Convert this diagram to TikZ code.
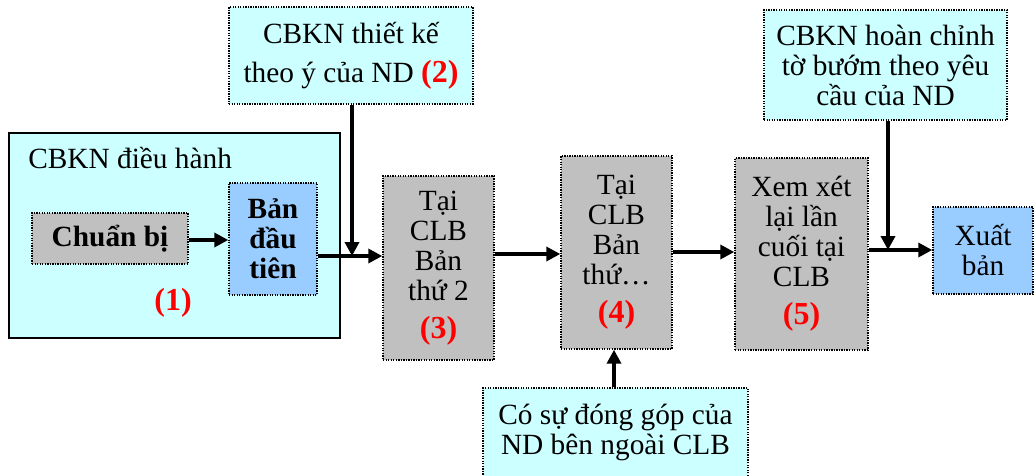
\documentclass[tikz,border=0pt]{standalone}
\usepackage{fontspec}
\setmainfont{Liberation Serif}
\usetikzlibrary{arrows.meta}
\definecolor{lcyan}{HTML}{CCFFFF}
\definecolor{lgray}{HTML}{C0C0C0}
\definecolor{lblue}{HTML}{99CCFF}
\definecolor{nred}{HTML}{FF0000}
\newcommand{\num}[1]{{\color{nred}\fontsize{24}{22.5}\selectfont\bfseries(#1)}}
\tikzset{
  x=0.75pt, y=-0.75pt,
  every node/.style={font=\fontsize{22}{22.5}\selectfont, inner sep=0pt, align=center},
  dotbox/.style={draw=black, line width=1.1pt, dash pattern=on 1pt off 0.9pt},
  graybox/.style={dotbox, fill=lgray},
  bluebox/.style={dotbox, fill=lblue},
  cyanbox/.style={dotbox, fill=lcyan},
  conn/.style={line width=2.8pt, -{Triangle[length=10.5pt,width=10.5pt]}},
  plain/.style={line width=2.8pt},
}
\begin{document}
\begin{tikzpicture}
\useasboundingbox (0,0) rectangle (1035,475);
% big box (1)
\node[draw=black, line width=1.3pt, fill=lcyan, minimum width=248.25pt, minimum height=153.75pt] (big) at (174.5,235.5) {};
\node[anchor=base west] (bigl) at (28,168) {CBKN điều hành};
\node[graybox, minimum width=117pt, minimum height=38.25pt, font=\fontsize{22}{22.5}\selectfont\bfseries] (chuan) at (110,238.5) {Chuẩn bị};
\node[bluebox, minimum width=66pt, minimum height=84pt, font=\fontsize{22}{22.5}\selectfont\bfseries] (ban) at (273,239) {Bản\\đầu\\tiên};
\node (n1) at (173,303) {\num{1}};
% box 2
\node[cyanbox, minimum width=183pt, minimum height=72.75pt] (b2) at (351,55.5) {CBKN thiết kế\\[7pt]theo ý của ND \num{2}};
% box 3
\node[graybox, minimum width=83.25pt, minimum height=138pt] (b3) at (438.5,268) {Tại\\CLB\\Bản\\thứ 2\\[6pt]\num{3}};
% box 4
\node[graybox, minimum width=83.25pt, minimum height=144.75pt] (b4) at (616.5,252.5) {Tại\\CLB\\Bản\\thứ…\\[6pt]\num{4}};
% box 5
\node[graybox, minimum width=99.75pt, minimum height=144pt] (b5) at (801.5,254) {Xem xét\\lại lần\\cuối tại\\CLB\\[6pt]\num{5}};
% xuat ban
\node[bluebox, minimum width=75pt, minimum height=65.25pt] (xb) at (983,250.5) {Xuất\\bản};
% top right
\node[cyanbox, minimum width=182.25pt, minimum height=82.5pt] (tr) at (885.5,65) {CBKN hoàn chỉnh\\tờ bướm theo yêu\\cầu của ND};
% bottom
\node[cyanbox, minimum width=198.75pt, minimum height=66.75pt] (bt) at (615.5,432.5) {Có sự đóng góp của\\ND bên ngoài CLB};
% junctions
\coordinate (j1) at (352,256);
\coordinate (j2) at (888,250);
% connectors
\draw[conn] (chuan.east |- 0,240) -- (ban.west |- 0,240);
\draw[plain] (ban.east |- j1) -- (j1);
\draw[conn] (j1) -- (b3.west |- j1);
\draw[conn] (b2.south -| j1) -- (j1);
\draw[conn] (b3.east |- 0,254) -- (b4.west |- 0,254);
\draw[conn] (b4.east |- 0,252) -- (b5.west |- 0,252);
\draw[plain] (b5.east |- j2) -- (j2);
\draw[conn] (j2) -- (xb.west |- j2);
\draw[conn] (tr.south -| j2) -- (j2);
\draw[conn] (bt.north -| 614,0) -- (b4.south -| 614,0);
\end{tikzpicture}
\end{document}
